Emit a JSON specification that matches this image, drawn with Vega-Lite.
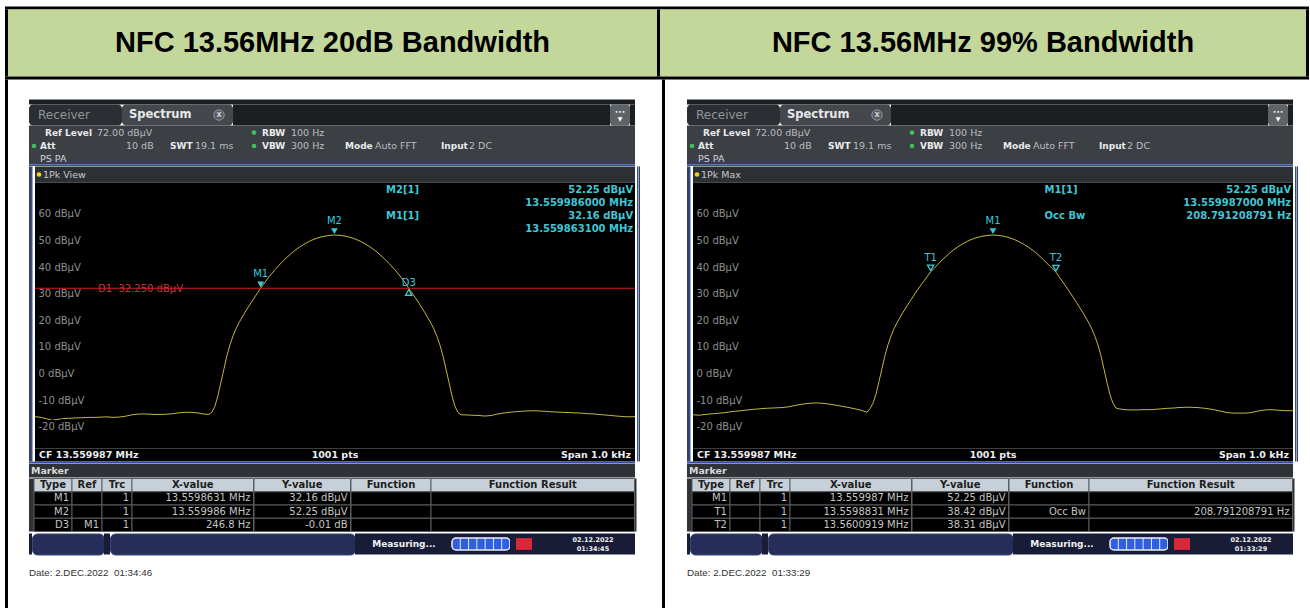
{
"$schema":"https://vega.github.io/schema/vega-lite/v6.json",
"background":"#ffffff",
"padding":{"left":5,"top":6.5,"right":0,"bottom":0},
"config":{"view":{"stroke":null},"concat":{"spacing":0},"text":{"font":"DejaVu Sans","fontSize":10},"point":{"opacity":1},"axis":{"minExtent":0,"maxExtent":0}},
"datasets":{
"tr1":[{"f":-500,"l":-16.0},{"f":-490,"l":-16.3},{"f":-480,"l":-16.9},{"f":-470,"l":-17.3},{"f":-460,"l":-17.0},{"f":-450,"l":-16.7},{"f":-440,"l":-16.6},{"f":-430,"l":-16.5},{"f":-420,"l":-16.4},{"f":-410,"l":-16.3},{"f":-400,"l":-16.3},{"f":-390,"l":-16.2},{"f":-380,"l":-16.1},{"f":-370,"l":-16.3},{"f":-360,"l":-16.2},{"f":-350,"l":-15.9},{"f":-340,"l":-15.4},{"f":-330,"l":-15.1},{"f":-320,"l":-15.0},{"f":-310,"l":-15.1},{"f":-300,"l":-15.2},{"f":-290,"l":-15.2},{"f":-280,"l":-15.1},{"f":-270,"l":-14.9},{"f":-260,"l":-14.6},{"f":-250,"l":-14.4},{"f":-240,"l":-14.4},{"f":-230,"l":-14.6},{"f":-220,"l":-15.0},{"f":-210,"l":-15.2},{"f":-205,"l":-14.3},{"f":-200,"l":-12.0},{"f":-195,"l":-8.0},{"f":-190,"l":-3.0},{"f":-185,"l":2.0},{"f":-180,"l":7.0},{"f":-175,"l":11.0},{"f":-170,"l":14.3},{"f":-165,"l":17.0},{"f":-160,"l":19.3},{"f":-150,"l":23.2},{"f":-140,"l":26.8},{"f":-130,"l":30.2},{"f":-124,"l":32.16},{"f":-120,"l":33.5},{"f":-110,"l":36.5},{"f":-100,"l":39.25},{"f":-90,"l":41.7},{"f":-80,"l":43.9},{"f":-70,"l":45.9},{"f":-60,"l":47.6},{"f":-50,"l":49.0},{"f":-40,"l":50.2},{"f":-30,"l":51.1},{"f":-20,"l":51.7},{"f":-10,"l":52.1},{"f":-1,"l":52.25},{"f":10,"l":52.1},{"f":20,"l":51.7},{"f":30,"l":51.05},{"f":40,"l":50.15},{"f":50,"l":48.95},{"f":60,"l":47.55},{"f":70,"l":45.85},{"f":80,"l":43.85},{"f":90,"l":41.6},{"f":100,"l":39.15},{"f":110,"l":36.4},{"f":120,"l":33.3},{"f":123,"l":32.15},{"f":130,"l":30.0},{"f":140,"l":26.6},{"f":150,"l":23.0},{"f":160,"l":19.1},{"f":165,"l":16.8},{"f":170,"l":14.1},{"f":175,"l":10.8},{"f":180,"l":6.8},{"f":185,"l":1.8},{"f":190,"l":-3.2},{"f":195,"l":-8.2},{"f":200,"l":-12.2},{"f":205,"l":-14.5},{"f":210,"l":-15.3},{"f":220,"l":-15.4},{"f":230,"l":-15.5},{"f":240,"l":-15.6},{"f":250,"l":-15.8},{"f":260,"l":-15.6},{"f":270,"l":-15.1},{"f":280,"l":-14.7},{"f":290,"l":-14.4},{"f":300,"l":-14.2},{"f":310,"l":-14.0},{"f":320,"l":-13.9},{"f":330,"l":-13.8},{"f":340,"l":-13.9},{"f":350,"l":-14.0},{"f":360,"l":-14.2},{"f":370,"l":-14.3},{"f":380,"l":-14.4},{"f":390,"l":-14.5},{"f":400,"l":-14.6},{"f":410,"l":-14.7},{"f":420,"l":-14.9},{"f":430,"l":-15.0},{"f":440,"l":-15.2},{"f":450,"l":-15.4},{"f":460,"l":-15.6},{"f":470,"l":-15.8},{"f":480,"l":-16.0},{"f":490,"l":-16.1},{"f":500,"l":-16.0}],
"tr2":[{"f":-500,"l":-15.3},{"f":-490,"l":-15.5},{"f":-480,"l":-15.2},{"f":-470,"l":-15.0},{"f":-460,"l":-14.8},{"f":-450,"l":-14.6},{"f":-440,"l":-14.3},{"f":-430,"l":-14.0},{"f":-420,"l":-13.8},{"f":-410,"l":-13.5},{"f":-400,"l":-13.3},{"f":-390,"l":-13.1},{"f":-380,"l":-12.9},{"f":-370,"l":-12.8},{"f":-360,"l":-12.7},{"f":-350,"l":-12.6},{"f":-340,"l":-12.3},{"f":-330,"l":-11.8},{"f":-320,"l":-11.4},{"f":-310,"l":-11.1},{"f":-300,"l":-10.9},{"f":-290,"l":-10.9},{"f":-280,"l":-11.1},{"f":-270,"l":-11.4},{"f":-260,"l":-11.8},{"f":-250,"l":-12.2},{"f":-240,"l":-12.6},{"f":-230,"l":-13.1},{"f":-220,"l":-13.6},{"f":-210,"l":-14.4},{"f":-205,"l":-13.0},{"f":-200,"l":-11.0},{"f":-195,"l":-7.6},{"f":-190,"l":-2.8},{"f":-185,"l":2.1},{"f":-180,"l":7.0},{"f":-175,"l":11.0},{"f":-170,"l":14.3},{"f":-165,"l":17.0},{"f":-160,"l":19.3},{"f":-150,"l":23.2},{"f":-140,"l":26.8},{"f":-130,"l":30.2},{"f":-120,"l":33.5},{"f":-110,"l":36.5},{"f":-104,"l":38.42},{"f":-100,"l":39.3},{"f":-90,"l":41.7},{"f":-80,"l":43.9},{"f":-70,"l":45.9},{"f":-60,"l":47.6},{"f":-50,"l":49.0},{"f":-40,"l":50.2},{"f":-30,"l":51.1},{"f":-20,"l":51.7},{"f":-10,"l":52.1},{"f":0,"l":52.25},{"f":10,"l":52.1},{"f":20,"l":51.7},{"f":30,"l":51.05},{"f":40,"l":50.15},{"f":50,"l":48.95},{"f":60,"l":47.55},{"f":70,"l":45.85},{"f":80,"l":43.85},{"f":90,"l":41.6},{"f":100,"l":39.4},{"f":105,"l":38.31},{"f":110,"l":36.6},{"f":120,"l":33.4},{"f":130,"l":30.1},{"f":140,"l":26.6},{"f":150,"l":23.0},{"f":160,"l":19.1},{"f":165,"l":16.8},{"f":170,"l":14.1},{"f":175,"l":10.8},{"f":180,"l":6.8},{"f":185,"l":1.8},{"f":190,"l":-3.2},{"f":195,"l":-7.8},{"f":200,"l":-11.0},{"f":205,"l":-12.8},{"f":210,"l":-13.1},{"f":220,"l":-13.4},{"f":230,"l":-13.5},{"f":240,"l":-13.5},{"f":250,"l":-13.4},{"f":260,"l":-13.4},{"f":270,"l":-13.3},{"f":280,"l":-13.1},{"f":290,"l":-12.9},{"f":300,"l":-12.8},{"f":310,"l":-12.6},{"f":320,"l":-12.5},{"f":330,"l":-12.5},{"f":340,"l":-12.6},{"f":350,"l":-12.8},{"f":360,"l":-13.1},{"f":370,"l":-13.5},{"f":380,"l":-14.0},{"f":390,"l":-14.5},{"f":400,"l":-14.7},{"f":410,"l":-14.7},{"f":420,"l":-14.7},{"f":430,"l":-14.5},{"f":440,"l":-14.0},{"f":450,"l":-13.6},{"f":460,"l":-13.4},{"f":470,"l":-13.5},{"f":480,"l":-13.7},{"f":490,"l":-13.8},{"f":500,"l":-13.8}],
"ylab":[{"lv":60,"t":"60 dBµV"},{"lv":50,"t":"50 dBµV"},{"lv":40,"t":"40 dBµV"},{"lv":30,"t":"30 dBµV"},{"lv":20,"t":"20 dBµV"},{"lv":10,"t":"10 dBµV"},{"lv":0,"t":"0 dBµV"},{"lv":-10,"t":"-10 dBµV"},{"lv":-20,"t":"-20 dBµV"}],
"mp1":[{"n":"M1","f":-123.9,"lv":32.16},{"n":"M2","f":-1,"lv":52.25},{"n":"D3","f":122.9,"lv":32.15}],
"mp2":[{"n":"M1","f":0,"lv":52.25},{"n":"T1","f":-103.9,"lv":38.42},{"n":"T2","f":104.9,"lv":38.31}],
"mk1":[{"r":1,"Type":"M1","Ref":"","Trc":"1","X":"13.5598631 MHz","Y":"32.16 dBµV","Func":"","Res":""},{"r":2,"Type":"M2","Ref":"","Trc":"1","X":"13.559986 MHz","Y":"52.25 dBµV","Func":"","Res":""},{"r":3,"Type":"D3","Ref":"M1","Trc":"1","X":"246.8 Hz","Y":"-0.01 dB","Func":"","Res":""}],
"mk2":[{"r":1,"Type":"M1","Ref":"","Trc":"1","X":"13.559987 MHz","Y":"52.25 dBµV","Func":"","Res":""},{"r":2,"Type":"T1","Ref":"","Trc":"1","X":"13.5598831 MHz","Y":"38.42 dBµV","Func":"Occ Bw","Res":"208.791208791 Hz"},{"r":3,"Type":"T2","Ref":"","Trc":"1","X":"13.5600919 MHz","Y":"38.31 dBµV","Func":"","Res":""}],
"settings":[{"line":1,"t":"Ref Level","g":"a"},{"line":2,"t":"Att","g":"b"},{"line":3,"t":"PS PA","g":"c"},{"line":1,"t":"72.00 dBµV","g":"d"},{"line":2,"t":"10 dB","g":"e"},{"line":2,"t":"SWT","g":"f"},{"line":2,"t":"19.1 ms","g":"h"},{"line":1,"t":"RBW","g":"i"},{"line":2,"t":"VBW","g":"i"},{"line":1,"t":"100 Hz","g":"j"},{"line":2,"t":"300 Hz","g":"j"},{"line":2,"t":"Mode","g":"k"},{"line":2,"t":"Auto FFT","g":"l"},{"line":2,"t":"Input","g":"m"},{"line":2,"t":"2 DC","g":"n"}],
"seg":[{"s":1},{"s":2},{"s":3},{"s":4},{"s":5},{"s":6}]
},
"spacing":0,
"vconcat":[
{"width":1304,"height":3,"view":{"fill":"#000000"},"data":{"values":[{}]},"mark":{"type":"text","text":"","fontSize":0},"encoding":{}},
{"spacing":0,"bounds":"flush","hconcat":[
 {"width":3,"height":67,"view":{"fill":"#000000"},"data":{"values":[{}]},"mark":{"type":"text","text":"","fontSize":0},"encoding":{}},
 {"width":649,"height":67,"view":{"fill":"#c4d79b"},"data":{"values":[{"t":"NFC 13.56MHz 20dB Bandwidth"}]},"mark":{"type":"text","font":"Liberation Sans","fontWeight":"bold","fontSize":29,"color":"#000000","dy":0},"encoding":{"text":{"field":"t"}}},
 {"width":3,"height":67,"view":{"fill":"#000000"},"data":{"values":[{}]},"mark":{"type":"text","text":"","fontSize":0},"encoding":{}},
 {"width":646,"height":67,"view":{"fill":"#c4d79b"},"data":{"values":[{"t":"NFC 13.56MHz 99% Bandwidth"}]},"mark":{"type":"text","font":"Liberation Sans","fontWeight":"bold","fontSize":29,"color":"#000000","dy":0},"encoding":{"text":{"field":"t"}}},
 {"width":3,"height":67,"view":{"fill":"#000000"},"data":{"values":[{}]},"mark":{"type":"text","text":"","fontSize":0},"encoding":{}}
]},
{"width":1304,"height":3,"view":{"fill":"#000000"},"data":{"values":[{}]},"mark":{"type":"text","text":"","fontSize":0},"encoding":{}},
{"spacing":0,"hconcat":[
 {"width":3,"height":529,"view":{"fill":"#000000"},"data":{"values":[{}]},"mark":{"type":"text","text":"","fontSize":0},"encoding":{}},
 {"spacing":0,"vconcat":[
  {"width":649,"height":20,"data":{"values":[{}]},"mark":{"type":"text","text":"","fontSize":0},"encoding":{}},
  {"spacing":0,"hconcat":[
   {"width":21,"height":450,"data":{"values":[{}]},"mark":{"type":"text","text":"","fontSize":0},"encoding":{}},
   {"spacing":0,"vconcat":[
    {"width":606,"height":5,"view":{"fill":"#1c1f22"},"data":{"values":[{}]},"mark":{"type":"text","text":"","fontSize":0},"encoding":{}},
    {"spacing":0,"bounds":"flush","hconcat":[
     {"width":93,"height":21,"view":{"fill":"#2b2f33","cornerRadius":4},"data":{"values":[{"t":"Receiver"}]},"mark":{"type":"text","align":"left","dx":9,"fontSize":12,"color":"#8f9498"},"encoding":{"x":{"datum":0,"type":"quantitative","scale":{"domain":[0,1]},"axis":null},"text":{"field":"t"}}},
     {"width":111,"height":21,"view":{"fill":"#44484c","cornerRadius":4},"layer":[
      {"data":{"values":[{"t":"Spectrum"}]},"mark":{"type":"text","align":"left","dx":7,"fontSize":11.5,"fontWeight":"bold","color":"#e6e8ea"},"encoding":{"x":{"datum":0,"type":"quantitative","scale":{"domain":[0,1]},"axis":null},"text":{"field":"t"}}},
      {"data":{"values":[{}]},"mark":{"type":"point","shape":"circle","filled":true,"size":110,"fill":"#5a5e62","stroke":"#8e9296","strokeWidth":1,"xOffset":-14},"encoding":{"x":{"datum":1,"type":"quantitative","scale":{"domain":[0,1]},"axis":null}}},
      {"data":{"values":[{"t":"x"}]},"mark":{"type":"text","dx":-14,"fontSize":8,"fontWeight":"bold","color":"#c8ccd0"},"encoding":{"x":{"datum":1,"type":"quantitative","scale":{"domain":[0,1]},"axis":null},"text":{"field":"t"}}}
     ]},
     {"width":377,"height":21,"view":{"fill":"#1c1f22"},"data":{"values":[{}]},"mark":{"type":"text","text":"","fontSize":0},"encoding":{}},
     {"width":20,"height":21,"view":{"fill":"#5e6368","cornerRadius":3},"layer":[
      {"data":{"values":[{"t":"•••"}]},"mark":{"type":"text","fontSize":6,"color":"#ffffff","dy":-3},"encoding":{"text":{"field":"t"}}},
      {"data":{"values":[{"t":"▼"}]},"mark":{"type":"text","fontSize":6,"color":"#ffffff","dy":4},"encoding":{"text":{"field":"t"}}}
     ]},
     {"width":5,"height":21,"view":{"fill":"#1c1f22"},"data":{"values":[{}]},"mark":{"type":"text","text":"","fontSize":0},"encoding":{}}
    ]},
    {"width":606,"height":39,"view":{"fill":"#3c4044"},"layer":[
     {"data":{"name":"settings"},"transform":[{"filter":"datum.g == 'a'"}],"mark":{"type":"text","align":"left","dx":16,"dy":1,"fontSize":9,"fontWeight":"bold","color":"#e8eaec"},"encoding":{"x":{"datum":0,"type":"quantitative","scale":{"domain":[0,1]},"axis":null},"y":{"field":"line","type":"ordinal","scale":{"type":"point","domain":[1,2,3],"padding":0.45},"axis":null},"text":{"field":"t"}}},
     {"data":{"name":"settings"},"transform":[{"filter":"datum.g == 'b'"}],"mark":{"type":"text","align":"left","dx":11,"dy":1,"fontSize":9,"fontWeight":"bold","color":"#e8eaec"},"encoding":{"x":{"datum":0,"type":"quantitative","scale":{"domain":[0,1]},"axis":null},"y":{"field":"line","type":"ordinal","scale":{"type":"point","domain":[1,2,3],"padding":0.45},"axis":null},"text":{"field":"t"}}},
     {"data":{"name":"settings"},"transform":[{"filter":"datum.g == 'c'"}],"mark":{"type":"text","align":"left","dx":11,"dy":1,"fontSize":9.5,"color":"#d0d3d6"},"encoding":{"x":{"datum":0,"type":"quantitative","scale":{"domain":[0,1]},"axis":null},"y":{"field":"line","type":"ordinal","scale":{"type":"point","domain":[1,2,3],"padding":0.45},"axis":null},"text":{"field":"t"}}},
     {"data":{"name":"settings"},"transform":[{"filter":"datum.g == 'd'"}],"mark":{"type":"text","align":"left","dx":68,"dy":1,"fontSize":9.5,"color":"#b9bdc1"},"encoding":{"x":{"datum":0,"type":"quantitative","scale":{"domain":[0,1]},"axis":null},"y":{"field":"line","type":"ordinal","scale":{"type":"point","domain":[1,2,3],"padding":0.45},"axis":null},"text":{"field":"t"}}},
     {"data":{"name":"settings"},"transform":[{"filter":"datum.g == 'e'"}],"mark":{"type":"text","align":"left","dx":97,"dy":1,"fontSize":9.5,"color":"#b9bdc1"},"encoding":{"x":{"datum":0,"type":"quantitative","scale":{"domain":[0,1]},"axis":null},"y":{"field":"line","type":"ordinal","scale":{"type":"point","domain":[1,2,3],"padding":0.45},"axis":null},"text":{"field":"t"}}},
     {"data":{"name":"settings"},"transform":[{"filter":"datum.g == 'f'"}],"mark":{"type":"text","align":"left","dx":141,"dy":1,"fontSize":9,"fontWeight":"bold","color":"#e8eaec"},"encoding":{"x":{"datum":0,"type":"quantitative","scale":{"domain":[0,1]},"axis":null},"y":{"field":"line","type":"ordinal","scale":{"type":"point","domain":[1,2,3],"padding":0.45},"axis":null},"text":{"field":"t"}}},
     {"data":{"name":"settings"},"transform":[{"filter":"datum.g == 'h'"}],"mark":{"type":"text","align":"left","dx":166,"dy":1,"fontSize":9.5,"color":"#b9bdc1"},"encoding":{"x":{"datum":0,"type":"quantitative","scale":{"domain":[0,1]},"axis":null},"y":{"field":"line","type":"ordinal","scale":{"type":"point","domain":[1,2,3],"padding":0.45},"axis":null},"text":{"field":"t"}}},
     {"data":{"name":"settings"},"transform":[{"filter":"datum.g == 'i'"}],"mark":{"type":"text","align":"left","dx":233,"dy":1,"fontSize":9,"fontWeight":"bold","color":"#e8eaec"},"encoding":{"x":{"datum":0,"type":"quantitative","scale":{"domain":[0,1]},"axis":null},"y":{"field":"line","type":"ordinal","scale":{"type":"point","domain":[1,2,3],"padding":0.45},"axis":null},"text":{"field":"t"}}},
     {"data":{"name":"settings"},"transform":[{"filter":"datum.g == 'j'"}],"mark":{"type":"text","align":"left","dx":262,"dy":1,"fontSize":9.5,"color":"#b9bdc1"},"encoding":{"x":{"datum":0,"type":"quantitative","scale":{"domain":[0,1]},"axis":null},"y":{"field":"line","type":"ordinal","scale":{"type":"point","domain":[1,2,3],"padding":0.45},"axis":null},"text":{"field":"t"}}},
     {"data":{"name":"settings"},"transform":[{"filter":"datum.g == 'k'"}],"mark":{"type":"text","align":"left","dx":316,"dy":1,"fontSize":9,"fontWeight":"bold","color":"#e8eaec"},"encoding":{"x":{"datum":0,"type":"quantitative","scale":{"domain":[0,1]},"axis":null},"y":{"field":"line","type":"ordinal","scale":{"type":"point","domain":[1,2,3],"padding":0.45},"axis":null},"text":{"field":"t"}}},
     {"data":{"name":"settings"},"transform":[{"filter":"datum.g == 'l'"}],"mark":{"type":"text","align":"left","dx":346,"dy":1,"fontSize":9.5,"color":"#b9bdc1"},"encoding":{"x":{"datum":0,"type":"quantitative","scale":{"domain":[0,1]},"axis":null},"y":{"field":"line","type":"ordinal","scale":{"type":"point","domain":[1,2,3],"padding":0.45},"axis":null},"text":{"field":"t"}}},
     {"data":{"name":"settings"},"transform":[{"filter":"datum.g == 'm'"}],"mark":{"type":"text","align":"left","dx":412,"dy":1,"fontSize":9,"fontWeight":"bold","color":"#e8eaec"},"encoding":{"x":{"datum":0,"type":"quantitative","scale":{"domain":[0,1]},"axis":null},"y":{"field":"line","type":"ordinal","scale":{"type":"point","domain":[1,2,3],"padding":0.45},"axis":null},"text":{"field":"t"}}},
     {"data":{"name":"settings"},"transform":[{"filter":"datum.g == 'n'"}],"mark":{"type":"text","align":"left","dx":440,"dy":1,"fontSize":9.5,"color":"#b9bdc1"},"encoding":{"x":{"datum":0,"type":"quantitative","scale":{"domain":[0,1]},"axis":null},"y":{"field":"line","type":"ordinal","scale":{"type":"point","domain":[1,2,3],"padding":0.45},"axis":null},"text":{"field":"t"}}},
     {"data":{"name":"settings"},"transform":[{"filter":"datum.g == 'i'"}],"mark":{"type":"point","shape":"circle","filled":true,"size":22,"color":"#3fbf5a","xOffset":225,"yOffset":1},"encoding":{"x":{"datum":0,"type":"quantitative","scale":{"domain":[0,1]},"axis":null},"y":{"field":"line","type":"ordinal","scale":{"type":"point","domain":[1,2,3],"padding":0.45},"axis":null}}},
     {"data":{"name":"settings"},"transform":[{"filter":"datum.g == 'b'"}],"mark":{"type":"point","shape":"circle","filled":true,"size":22,"color":"#3fbf5a","xOffset":5,"yOffset":1},"encoding":{"x":{"datum":0,"type":"quantitative","scale":{"domain":[0,1]},"axis":null},"y":{"field":"line","type":"ordinal","scale":{"type":"point","domain":[1,2,3],"padding":0.45},"axis":null}}}
    ]},
    {"width":606,"height":1.5,"view":{"fill":"#2d50a8"},"data":{"values":[{}]},"mark":{"type":"text","text":"","fontSize":0},"encoding":{}},
    {"spacing":0,"hconcat":[
     {"width":2,"height":295,"view":{"fill":"#3c4044"},"data":{"values":[{}]},"mark":{"type":"text","text":"","fontSize":0},"encoding":{}},
     {"width":1.5,"height":295,"view":{"fill":"#2d50a8"},"data":{"values":[{}]},"mark":{"type":"text","text":"","fontSize":0},"encoding":{}},
     {"spacing":0,"bounds":"flush","vconcat":[
      {"width":600,"height":16,"view":{"fill":"#2c2f33"},"layer":[
       {"data":{"values":[{}]},"mark":{"type":"point","shape":"circle","filled":true,"size":22,"color":"#f0d020","xOffset":4},"encoding":{"x":{"datum":0,"type":"quantitative","scale":{"domain":[0,1]},"axis":null}}},
       {"data":{"values":[{"t":"1Pk View"}]},"mark":{"type":"text","align":"left","dx":8,"fontSize":9.5,"color":"#c6cacd"},"encoding":{"x":{"datum":0,"type":"quantitative","scale":{"domain":[0,1]},"axis":null},"text":{"field":"t"}}}
      ]},
      {"width":600,"height":266,"view":{"fill":"#000000"},"layer":[
       {"data":{"name":"tr1"},"mark":{"type":"line","color":"#c2b440","strokeWidth":1},"encoding":{"x":{"field":"f","type":"quantitative","scale":{"domain":[-500,500],"nice":false,"zero":false},"axis":{"grid":true,"values":[-500,-400,-300,-200,-100,0,100,200,300,400,500],"gridColor":"#6c6c6c","gridOpacity":1,"gridWidth":1,"labels":false,"ticks":false,"domain":false,"title":null,"minExtent":0,"maxExtent":0}},"y":{"field":"l","type":"quantitative","scale":{"domain":[-28,72],"nice":false,"zero":false},"axis":{"grid":true,"values":[-28,-20,-10,0,10,20,30,40,50,60,70,72],"gridColor":"#6c6c6c","gridOpacity":1,"gridWidth":1,"labels":false,"ticks":false,"domain":false,"title":null,"minExtent":0,"maxExtent":0}}}},
       {"data":{"values":[{}]},"mark":{"type":"rect","fill":"#000000"},"encoding":{"x":{"datum":78,"type":"quantitative","axis":null},"x2":{"datum":500},"y":{"datum":52,"type":"quantitative","axis":null},"y2":{"datum":71.6}}},
       {"data":{"name":"ylab"},"mark":{"type":"text","align":"left","dx":3.5,"fill":"#000000","stroke":"#000000","strokeWidth":5},"encoding":{"x":{"datum":-500,"type":"quantitative","axis":null},"y":{"field":"lv","type":"quantitative","axis":null},"text":{"field":"t"}}},
       {"data":{"name":"ylab"},"mark":{"type":"text","align":"left","dx":3.5,"color":"#8e8e8e"},"encoding":{"x":{"datum":-500,"type":"quantitative","axis":null},"y":{"field":"lv","type":"quantitative","axis":null},"text":{"field":"t"}}},
       {"data":{"values":[{}]},"mark":{"type":"rule","color":"#d42020","strokeWidth":1},"encoding":{"y":{"datum":32.25,"type":"quantitative","axis":null}}},
       {"data":{"values":[{"t":"D1\u00a0 32.250 dBµV"}]},"mark":{"type":"text","align":"left","dx":3,"dy":1,"color":"#cc3030"},"encoding":{"x":{"datum":-400,"type":"quantitative","axis":null},"y":{"datum":32.25,"type":"quantitative","axis":null},"text":{"field":"t"}}},
       {"data":{"name":"mp1"},"transform":[{"filter":"datum.n != 'D3'"}],"mark":{"type":"point","shape":"triangle-down","filled":true,"size":45,"color":"#3cc8da","yOffset":-4},"encoding":{"x":{"field":"f","type":"quantitative","axis":null},"y":{"field":"lv","type":"quantitative","axis":null}}},
       {"data":{"name":"mp1"},"transform":[{"filter":"datum.n == 'D3'"}],"mark":{"type":"point","shape":"triangle-up","filled":false,"size":40,"strokeWidth":1.3,"color":"#3cc8da","yOffset":4},"encoding":{"x":{"field":"f","type":"quantitative","axis":null},"y":{"field":"lv","type":"quantitative","axis":null}}},
       {"data":{"name":"mp1"},"transform":[{"filter":"datum.n != 'D3'"}],"mark":{"type":"text","color":"#3cc8da","dy":-14},"encoding":{"x":{"field":"f","type":"quantitative","axis":null},"y":{"field":"lv","type":"quantitative","axis":null},"text":{"field":"n"}}},
       {"data":{"name":"mp1"},"transform":[{"filter":"datum.n == 'D3'"}],"mark":{"type":"text","color":"#3cc8da","dy":-6},"encoding":{"x":{"field":"f","type":"quantitative","axis":null},"y":{"field":"lv","type":"quantitative","axis":null},"text":{"field":"n"}}},
       {"data":{"values":[{"t":"M2[1]"}]},"mark":{"type":"text","align":"left","fontWeight":"bold","color":"#3ec7d5"},"encoding":{"x":{"datum":85,"type":"quantitative","axis":null},"y":{"datum":69,"type":"quantitative","axis":null},"text":{"field":"t"}}},
       {"data":{"values":[{"t":"M1[1]"}]},"mark":{"type":"text","align":"left","fontWeight":"bold","color":"#3ec7d5"},"encoding":{"x":{"datum":85,"type":"quantitative","axis":null},"y":{"datum":59.4,"type":"quantitative","axis":null},"text":{"field":"t"}}},
       {"data":{"values":[{"t":"52.25 dBµV"}]},"mark":{"type":"text","align":"right","fontWeight":"bold","color":"#3ec7d5"},"encoding":{"x":{"datum":497,"type":"quantitative","axis":null},"y":{"datum":69,"type":"quantitative","axis":null},"text":{"field":"t"}}},
       {"data":{"values":[{"t":"13.559986000 MHz"}]},"mark":{"type":"text","align":"right","fontWeight":"bold","color":"#3ec7d5"},"encoding":{"x":{"datum":497,"type":"quantitative","axis":null},"y":{"datum":64.2,"type":"quantitative","axis":null},"text":{"field":"t"}}},
       {"data":{"values":[{"t":"32.16 dBµV"}]},"mark":{"type":"text","align":"right","fontWeight":"bold","color":"#3ec7d5"},"encoding":{"x":{"datum":497,"type":"quantitative","axis":null},"y":{"datum":59.4,"type":"quantitative","axis":null},"text":{"field":"t"}}},
       {"data":{"values":[{"t":"13.559863100 MHz"}]},"mark":{"type":"text","align":"right","fontWeight":"bold","color":"#3ec7d5"},"encoding":{"x":{"datum":497,"type":"quantitative","axis":null},"y":{"datum":54.5,"type":"quantitative","axis":null},"text":{"field":"t"}}}
      ]},
      {"width":600,"height":13,"view":{"fill":"#000000"},"layer":[
       {"data":{"values":[{"t":"CF 13.559987 MHz"}]},"mark":{"type":"text","align":"left","dx":4,"fontWeight":"bold","fontSize":9.5,"color":"#eeeeee"},"encoding":{"x":{"datum":0,"type":"quantitative","scale":{"domain":[0,1]},"axis":null},"text":{"field":"t"}}},
       {"data":{"values":[{"t":"1001 pts"}]},"mark":{"type":"text","fontWeight":"bold","fontSize":9.5,"color":"#eeeeee"},"encoding":{"text":{"field":"t"}}},
       {"data":{"values":[{"t":"Span 1.0 kHz"}]},"mark":{"type":"text","align":"right","dx":-4,"fontWeight":"bold","fontSize":9.5,"color":"#eeeeee"},"encoding":{"x":{"datum":1,"type":"quantitative","scale":{"domain":[0,1]},"axis":null},"text":{"field":"t"}}}
      ]}
     ]},
     {"width":1.5,"height":295,"view":{"fill":"#2d50a8"},"data":{"values":[{}]},"mark":{"type":"text","text":"","fontSize":0},"encoding":{}},
     {"width":1,"height":295,"view":{"fill":"#3c4044"},"data":{"values":[{}]},"mark":{"type":"text","text":"","fontSize":0},"encoding":{}}
    ]},
    {"width":606,"height":1.5,"view":{"fill":"#2d50a8"},"data":{"values":[{}]},"mark":{"type":"text","text":"","fontSize":0},"encoding":{}},
    {"width":606,"height":14,"view":{"fill":"#2f3337"},"data":{"values":[{"t":"Marker"}]},"mark":{"type":"text","align":"left","dx":2,"fontWeight":"bold","fontSize":9.5,"color":"#d6d8da"},"encoding":{"x":{"datum":0,"type":"quantitative","scale":{"domain":[0,1]},"axis":null},"text":{"field":"t"}}},
    {"spacing":0,"bounds":"flush","hconcat":[
     {"width":5,"height":53,"view":{"fill":"#2f3337"},"data":{"values":[{}]},"mark":{"type":"text","text":"","fontSize":0},"encoding":{}},
     {"width":38,"height":53,"layer":[
      {"data":{"values":[{"r":0,"h":"Type"}]},"mark":{"type":"rect","fill":"#c7d0d8","stroke":"#5a5e62","strokeWidth":1},"encoding":{"x":{"datum":0,"type":"quantitative","scale":{"domain":[0,1]},"axis":null},"x2":{"datum":1},"y":{"field":"r","type":"ordinal","scale":{"type":"band","domain":[0,1,2,3],"paddingInner":0,"paddingOuter":0},"axis":null}}},
      {"data":{"values":[{"r":0,"h":"Type"}]},"mark":{"type":"text","fontWeight":"bold","color":"#1e1e1e"},"encoding":{"y":{"field":"r","type":"ordinal","scale":{"type":"band","domain":[0,1,2,3],"paddingInner":0,"paddingOuter":0},"axis":null},"text":{"field":"h"}}},
      {"data":{"name":"mk1"},"mark":{"type":"rect","fill":"#000000","stroke":"#5a5e62","strokeWidth":1},"encoding":{"x":{"datum":0,"type":"quantitative","scale":{"domain":[0,1]},"axis":null},"x2":{"datum":1},"y":{"field":"r","type":"ordinal","scale":{"type":"band","domain":[0,1,2,3],"paddingInner":0,"paddingOuter":0},"axis":null}}},
      {"data":{"name":"mk1"},"mark":{"type":"text","align":"right","dx":-3,"color":"#c4c4c4"},"encoding":{"x":{"datum":1,"type":"quantitative","scale":{"domain":[0,1]},"axis":null},"y":{"field":"r","type":"ordinal","scale":{"type":"band","domain":[0,1,2,3],"paddingInner":0,"paddingOuter":0},"axis":null},"text":{"field":"Type"}}}
     ]},
     {"width":30,"height":53,"layer":[
      {"data":{"values":[{"r":0,"h":"Ref"}]},"mark":{"type":"rect","fill":"#c7d0d8","stroke":"#5a5e62","strokeWidth":1},"encoding":{"x":{"datum":0,"type":"quantitative","scale":{"domain":[0,1]},"axis":null},"x2":{"datum":1},"y":{"field":"r","type":"ordinal","scale":{"type":"band","domain":[0,1,2,3],"paddingInner":0,"paddingOuter":0},"axis":null}}},
      {"data":{"values":[{"r":0,"h":"Ref"}]},"mark":{"type":"text","fontWeight":"bold","color":"#1e1e1e"},"encoding":{"y":{"field":"r","type":"ordinal","scale":{"type":"band","domain":[0,1,2,3],"paddingInner":0,"paddingOuter":0},"axis":null},"text":{"field":"h"}}},
      {"data":{"name":"mk1"},"mark":{"type":"rect","fill":"#000000","stroke":"#5a5e62","strokeWidth":1},"encoding":{"x":{"datum":0,"type":"quantitative","scale":{"domain":[0,1]},"axis":null},"x2":{"datum":1},"y":{"field":"r","type":"ordinal","scale":{"type":"band","domain":[0,1,2,3],"paddingInner":0,"paddingOuter":0},"axis":null}}},
      {"data":{"name":"mk1"},"mark":{"type":"text","align":"right","dx":-3,"color":"#c4c4c4"},"encoding":{"x":{"datum":1,"type":"quantitative","scale":{"domain":[0,1]},"axis":null},"y":{"field":"r","type":"ordinal","scale":{"type":"band","domain":[0,1,2,3],"paddingInner":0,"paddingOuter":0},"axis":null},"text":{"field":"Ref"}}}
     ]},
     {"width":30,"height":53,"layer":[
      {"data":{"values":[{"r":0,"h":"Trc"}]},"mark":{"type":"rect","fill":"#c7d0d8","stroke":"#5a5e62","strokeWidth":1},"encoding":{"x":{"datum":0,"type":"quantitative","scale":{"domain":[0,1]},"axis":null},"x2":{"datum":1},"y":{"field":"r","type":"ordinal","scale":{"type":"band","domain":[0,1,2,3],"paddingInner":0,"paddingOuter":0},"axis":null}}},
      {"data":{"values":[{"r":0,"h":"Trc"}]},"mark":{"type":"text","fontWeight":"bold","color":"#1e1e1e"},"encoding":{"y":{"field":"r","type":"ordinal","scale":{"type":"band","domain":[0,1,2,3],"paddingInner":0,"paddingOuter":0},"axis":null},"text":{"field":"h"}}},
      {"data":{"name":"mk1"},"mark":{"type":"rect","fill":"#000000","stroke":"#5a5e62","strokeWidth":1},"encoding":{"x":{"datum":0,"type":"quantitative","scale":{"domain":[0,1]},"axis":null},"x2":{"datum":1},"y":{"field":"r","type":"ordinal","scale":{"type":"band","domain":[0,1,2,3],"paddingInner":0,"paddingOuter":0},"axis":null}}},
      {"data":{"name":"mk1"},"mark":{"type":"text","align":"right","dx":-3,"color":"#c4c4c4"},"encoding":{"x":{"datum":1,"type":"quantitative","scale":{"domain":[0,1]},"axis":null},"y":{"field":"r","type":"ordinal","scale":{"type":"band","domain":[0,1,2,3],"paddingInner":0,"paddingOuter":0},"axis":null},"text":{"field":"Trc"}}}
     ]},
     {"width":121.5,"height":53,"layer":[
      {"data":{"values":[{"r":0,"h":"X-value"}]},"mark":{"type":"rect","fill":"#c7d0d8","stroke":"#5a5e62","strokeWidth":1},"encoding":{"x":{"datum":0,"type":"quantitative","scale":{"domain":[0,1]},"axis":null},"x2":{"datum":1},"y":{"field":"r","type":"ordinal","scale":{"type":"band","domain":[0,1,2,3],"paddingInner":0,"paddingOuter":0},"axis":null}}},
      {"data":{"values":[{"r":0,"h":"X-value"}]},"mark":{"type":"text","fontWeight":"bold","color":"#1e1e1e"},"encoding":{"y":{"field":"r","type":"ordinal","scale":{"type":"band","domain":[0,1,2,3],"paddingInner":0,"paddingOuter":0},"axis":null},"text":{"field":"h"}}},
      {"data":{"name":"mk1"},"mark":{"type":"rect","fill":"#000000","stroke":"#5a5e62","strokeWidth":1},"encoding":{"x":{"datum":0,"type":"quantitative","scale":{"domain":[0,1]},"axis":null},"x2":{"datum":1},"y":{"field":"r","type":"ordinal","scale":{"type":"band","domain":[0,1,2,3],"paddingInner":0,"paddingOuter":0},"axis":null}}},
      {"data":{"name":"mk1"},"mark":{"type":"text","align":"right","dx":-3,"color":"#c4c4c4"},"encoding":{"x":{"datum":1,"type":"quantitative","scale":{"domain":[0,1]},"axis":null},"y":{"field":"r","type":"ordinal","scale":{"type":"band","domain":[0,1,2,3],"paddingInner":0,"paddingOuter":0},"axis":null},"text":{"field":"X"}}}
     ]},
     {"width":96.5,"height":53,"layer":[
      {"data":{"values":[{"r":0,"h":"Y-value"}]},"mark":{"type":"rect","fill":"#c7d0d8","stroke":"#5a5e62","strokeWidth":1},"encoding":{"x":{"datum":0,"type":"quantitative","scale":{"domain":[0,1]},"axis":null},"x2":{"datum":1},"y":{"field":"r","type":"ordinal","scale":{"type":"band","domain":[0,1,2,3],"paddingInner":0,"paddingOuter":0},"axis":null}}},
      {"data":{"values":[{"r":0,"h":"Y-value"}]},"mark":{"type":"text","fontWeight":"bold","color":"#1e1e1e"},"encoding":{"y":{"field":"r","type":"ordinal","scale":{"type":"band","domain":[0,1,2,3],"paddingInner":0,"paddingOuter":0},"axis":null},"text":{"field":"h"}}},
      {"data":{"name":"mk1"},"mark":{"type":"rect","fill":"#000000","stroke":"#5a5e62","strokeWidth":1},"encoding":{"x":{"datum":0,"type":"quantitative","scale":{"domain":[0,1]},"axis":null},"x2":{"datum":1},"y":{"field":"r","type":"ordinal","scale":{"type":"band","domain":[0,1,2,3],"paddingInner":0,"paddingOuter":0},"axis":null}}},
      {"data":{"name":"mk1"},"mark":{"type":"text","align":"right","dx":-3,"color":"#c4c4c4"},"encoding":{"x":{"datum":1,"type":"quantitative","scale":{"domain":[0,1]},"axis":null},"y":{"field":"r","type":"ordinal","scale":{"type":"band","domain":[0,1,2,3],"paddingInner":0,"paddingOuter":0},"axis":null},"text":{"field":"Y"}}}
     ]},
     {"width":80,"height":53,"layer":[
      {"data":{"values":[{"r":0,"h":"Function"}]},"mark":{"type":"rect","fill":"#c7d0d8","stroke":"#5a5e62","strokeWidth":1},"encoding":{"x":{"datum":0,"type":"quantitative","scale":{"domain":[0,1]},"axis":null},"x2":{"datum":1},"y":{"field":"r","type":"ordinal","scale":{"type":"band","domain":[0,1,2,3],"paddingInner":0,"paddingOuter":0},"axis":null}}},
      {"data":{"values":[{"r":0,"h":"Function"}]},"mark":{"type":"text","fontWeight":"bold","color":"#1e1e1e"},"encoding":{"y":{"field":"r","type":"ordinal","scale":{"type":"band","domain":[0,1,2,3],"paddingInner":0,"paddingOuter":0},"axis":null},"text":{"field":"h"}}},
      {"data":{"name":"mk1"},"mark":{"type":"rect","fill":"#000000","stroke":"#5a5e62","strokeWidth":1},"encoding":{"x":{"datum":0,"type":"quantitative","scale":{"domain":[0,1]},"axis":null},"x2":{"datum":1},"y":{"field":"r","type":"ordinal","scale":{"type":"band","domain":[0,1,2,3],"paddingInner":0,"paddingOuter":0},"axis":null}}},
      {"data":{"name":"mk1"},"mark":{"type":"text","align":"right","dx":-3,"color":"#c4c4c4"},"encoding":{"x":{"datum":1,"type":"quantitative","scale":{"domain":[0,1]},"axis":null},"y":{"field":"r","type":"ordinal","scale":{"type":"band","domain":[0,1,2,3],"paddingInner":0,"paddingOuter":0},"axis":null},"text":{"field":"Func"}}}
     ]},
     {"width":203.5,"height":53,"layer":[
      {"data":{"values":[{"r":0,"h":"Function Result"}]},"mark":{"type":"rect","fill":"#c7d0d8","stroke":"#5a5e62","strokeWidth":1},"encoding":{"x":{"datum":0,"type":"quantitative","scale":{"domain":[0,1]},"axis":null},"x2":{"datum":1},"y":{"field":"r","type":"ordinal","scale":{"type":"band","domain":[0,1,2,3],"paddingInner":0,"paddingOuter":0},"axis":null}}},
      {"data":{"values":[{"r":0,"h":"Function Result"}]},"mark":{"type":"text","fontWeight":"bold","color":"#1e1e1e"},"encoding":{"y":{"field":"r","type":"ordinal","scale":{"type":"band","domain":[0,1,2,3],"paddingInner":0,"paddingOuter":0},"axis":null},"text":{"field":"h"}}},
      {"data":{"name":"mk1"},"mark":{"type":"rect","fill":"#000000","stroke":"#5a5e62","strokeWidth":1},"encoding":{"x":{"datum":0,"type":"quantitative","scale":{"domain":[0,1]},"axis":null},"x2":{"datum":1},"y":{"field":"r","type":"ordinal","scale":{"type":"band","domain":[0,1,2,3],"paddingInner":0,"paddingOuter":0},"axis":null}}},
      {"data":{"name":"mk1"},"mark":{"type":"text","align":"right","dx":-3,"color":"#c4c4c4"},"encoding":{"x":{"datum":1,"type":"quantitative","scale":{"domain":[0,1]},"axis":null},"y":{"field":"r","type":"ordinal","scale":{"type":"band","domain":[0,1,2,3],"paddingInner":0,"paddingOuter":0},"axis":null},"text":{"field":"Res"}}}
     ]},
     {"width":1.5,"height":53,"view":{"fill":"#2f3337"},"data":{"values":[{}]},"mark":{"type":"text","text":"","fontSize":0},"encoding":{}}
    ]},
    {"spacing":0,"bounds":"flush","hconcat":[
     {"width":3,"height":21,"view":{"fill":"#181c36"},"data":{"values":[{}]},"mark":{"type":"text","text":"","fontSize":0},"encoding":{}},
     {"width":72,"height":21,"view":{"fill":"#252e58","stroke":"#3b4679","strokeWidth":1,"cornerRadius":5},"data":{"values":[{}]},"mark":{"type":"text","text":"","fontSize":0},"encoding":{}},
     {"width":6,"height":21,"view":{"fill":"#181c36"},"data":{"values":[{}]},"mark":{"type":"text","text":"","fontSize":0},"encoding":{}},
     {"width":245,"height":21,"view":{"fill":"#252e58","stroke":"#3b4679","strokeWidth":1,"cornerRadius":5},"data":{"values":[{}]},"mark":{"type":"text","text":"","fontSize":0},"encoding":{}},
     {"width":18,"height":21,"view":{"fill":"#181c36"},"data":{"values":[{}]},"mark":{"type":"text","text":"","fontSize":0},"encoding":{}},
     {"width":62,"height":21,"view":{"fill":"#181c36"},"data":{"values":[{"t":"Measuring..."}]},"mark":{"type":"text","fontWeight":"bold","fontSize":9,"color":"#f0f0f0"},"encoding":{"text":{"field":"t"}}},
     {"width":17,"height":21,"view":{"fill":"#181c36"},"data":{"values":[{}]},"mark":{"type":"text","text":"","fontSize":0},"encoding":{}},
     {"width":58,"height":21,"view":{"fill":"#181c36"},"layer":[
      {"data":{"values":[{}]},"mark":{"type":"rect","fill":"#2f5ee0","stroke":"#f0f0f8","strokeWidth":1.5,"cornerRadius":4},"encoding":{"x":{"datum":0,"type":"quantitative","scale":{"domain":[0,7]},"axis":null},"x2":{"datum":7},"y":{"datum":0.22,"type":"quantitative","scale":{"domain":[0,1]},"axis":null},"y2":{"datum":0.78}}},
      {"data":{"name":"seg"},"mark":{"type":"rule","color":"#e8ecf8","strokeWidth":1},"encoding":{"x":{"field":"s","type":"quantitative","axis":null},"y":{"datum":0.22,"type":"quantitative","axis":null},"y2":{"datum":0.78}}}
     ]},
     {"width":6,"height":21,"view":{"fill":"#181c36"},"data":{"values":[{}]},"mark":{"type":"text","text":"","fontSize":0},"encoding":{}},
     {"width":16,"height":21,"view":{"fill":"#181c36"},"data":{"values":[{}]},"mark":{"type":"rect","fill":"#d8283a"},"encoding":{"x":{"datum":0,"type":"quantitative","scale":{"domain":[0,1]},"axis":null},"x2":{"datum":1},"y":{"datum":0.22,"type":"quantitative","scale":{"domain":[0,1]},"axis":null},"y2":{"datum":0.78}}},
     {"width":38,"height":21,"view":{"fill":"#181c36"},"data":{"values":[{}]},"mark":{"type":"text","text":"","fontSize":0},"encoding":{}},
     {"width":46,"height":21,"view":{"fill":"#181c36"},"layer":[
      {"data":{"values":[{"t":"02.12.2022"}]},"mark":{"type":"text","fontWeight":"bold","fontSize":6.5,"color":"#f0f0f0","dy":-4.5},"encoding":{"text":{"field":"t"}}},
      {"data":{"values":[{"t":"01:34:45"}]},"mark":{"type":"text","fontWeight":"bold","fontSize":6.5,"color":"#f0f0f0","dy":4.5},"encoding":{"text":{"field":"t"}}}
     ]},
     {"width":19,"height":21,"view":{"fill":"#181c36"},"data":{"values":[{}]},"mark":{"type":"text","text":"","fontSize":0},"encoding":{}}
    ]}
   ]},
   {"width":22,"height":450,"data":{"values":[{}]},"mark":{"type":"text","text":"","fontSize":0},"encoding":{}}
  ]},
  {"width":649,"height":55,"data":{"values":[{"t":"Date: 2.DEC.2022\u00a0 01:34:46"}]},"mark":{"type":"text","font":"Liberation Sans","fontSize":9.8,"color":"#333333","align":"left","dx":21,"dy":-10},"encoding":{"x":{"datum":0,"type":"quantitative","scale":{"domain":[0,1]},"axis":null},"text":{"field":"t"}}}
 ]},
 {"width":3,"height":529,"view":{"fill":"#000000"},"data":{"values":[{}]},"mark":{"type":"text","text":"","fontSize":0},"encoding":{}},
 {"spacing":0,"vconcat":[
  {"width":646,"height":20,"data":{"values":[{}]},"mark":{"type":"text","text":"","fontSize":0},"encoding":{}},
  {"spacing":0,"hconcat":[
   {"width":22,"height":450,"data":{"values":[{}]},"mark":{"type":"text","text":"","fontSize":0},"encoding":{}},
   {"spacing":0,"vconcat":[
    {"width":606,"height":5,"view":{"fill":"#1c1f22"},"data":{"values":[{}]},"mark":{"type":"text","text":"","fontSize":0},"encoding":{}},
    {"spacing":0,"bounds":"flush","hconcat":[
     {"width":93,"height":21,"view":{"fill":"#2b2f33","cornerRadius":4},"data":{"values":[{"t":"Receiver"}]},"mark":{"type":"text","align":"left","dx":9,"fontSize":12,"color":"#8f9498"},"encoding":{"x":{"datum":0,"type":"quantitative","scale":{"domain":[0,1]},"axis":null},"text":{"field":"t"}}},
     {"width":111,"height":21,"view":{"fill":"#44484c","cornerRadius":4},"layer":[
      {"data":{"values":[{"t":"Spectrum"}]},"mark":{"type":"text","align":"left","dx":7,"fontSize":11.5,"fontWeight":"bold","color":"#e6e8ea"},"encoding":{"x":{"datum":0,"type":"quantitative","scale":{"domain":[0,1]},"axis":null},"text":{"field":"t"}}},
      {"data":{"values":[{}]},"mark":{"type":"point","shape":"circle","filled":true,"size":110,"fill":"#5a5e62","stroke":"#8e9296","strokeWidth":1,"xOffset":-14},"encoding":{"x":{"datum":1,"type":"quantitative","scale":{"domain":[0,1]},"axis":null}}},
      {"data":{"values":[{"t":"x"}]},"mark":{"type":"text","dx":-14,"fontSize":8,"fontWeight":"bold","color":"#c8ccd0"},"encoding":{"x":{"datum":1,"type":"quantitative","scale":{"domain":[0,1]},"axis":null},"text":{"field":"t"}}}
     ]},
     {"width":377,"height":21,"view":{"fill":"#1c1f22"},"data":{"values":[{}]},"mark":{"type":"text","text":"","fontSize":0},"encoding":{}},
     {"width":20,"height":21,"view":{"fill":"#5e6368","cornerRadius":3},"layer":[
      {"data":{"values":[{"t":"•••"}]},"mark":{"type":"text","fontSize":6,"color":"#ffffff","dy":-3},"encoding":{"text":{"field":"t"}}},
      {"data":{"values":[{"t":"▼"}]},"mark":{"type":"text","fontSize":6,"color":"#ffffff","dy":4},"encoding":{"text":{"field":"t"}}}
     ]},
     {"width":5,"height":21,"view":{"fill":"#1c1f22"},"data":{"values":[{}]},"mark":{"type":"text","text":"","fontSize":0},"encoding":{}}
    ]},
    {"width":606,"height":39,"view":{"fill":"#3c4044"},"layer":[
     {"data":{"name":"settings"},"transform":[{"filter":"datum.g == 'a'"}],"mark":{"type":"text","align":"left","dx":16,"dy":1,"fontSize":9,"fontWeight":"bold","color":"#e8eaec"},"encoding":{"x":{"datum":0,"type":"quantitative","scale":{"domain":[0,1]},"axis":null},"y":{"field":"line","type":"ordinal","scale":{"type":"point","domain":[1,2,3],"padding":0.45},"axis":null},"text":{"field":"t"}}},
     {"data":{"name":"settings"},"transform":[{"filter":"datum.g == 'b'"}],"mark":{"type":"text","align":"left","dx":11,"dy":1,"fontSize":9,"fontWeight":"bold","color":"#e8eaec"},"encoding":{"x":{"datum":0,"type":"quantitative","scale":{"domain":[0,1]},"axis":null},"y":{"field":"line","type":"ordinal","scale":{"type":"point","domain":[1,2,3],"padding":0.45},"axis":null},"text":{"field":"t"}}},
     {"data":{"name":"settings"},"transform":[{"filter":"datum.g == 'c'"}],"mark":{"type":"text","align":"left","dx":11,"dy":1,"fontSize":9.5,"color":"#d0d3d6"},"encoding":{"x":{"datum":0,"type":"quantitative","scale":{"domain":[0,1]},"axis":null},"y":{"field":"line","type":"ordinal","scale":{"type":"point","domain":[1,2,3],"padding":0.45},"axis":null},"text":{"field":"t"}}},
     {"data":{"name":"settings"},"transform":[{"filter":"datum.g == 'd'"}],"mark":{"type":"text","align":"left","dx":68,"dy":1,"fontSize":9.5,"color":"#b9bdc1"},"encoding":{"x":{"datum":0,"type":"quantitative","scale":{"domain":[0,1]},"axis":null},"y":{"field":"line","type":"ordinal","scale":{"type":"point","domain":[1,2,3],"padding":0.45},"axis":null},"text":{"field":"t"}}},
     {"data":{"name":"settings"},"transform":[{"filter":"datum.g == 'e'"}],"mark":{"type":"text","align":"left","dx":97,"dy":1,"fontSize":9.5,"color":"#b9bdc1"},"encoding":{"x":{"datum":0,"type":"quantitative","scale":{"domain":[0,1]},"axis":null},"y":{"field":"line","type":"ordinal","scale":{"type":"point","domain":[1,2,3],"padding":0.45},"axis":null},"text":{"field":"t"}}},
     {"data":{"name":"settings"},"transform":[{"filter":"datum.g == 'f'"}],"mark":{"type":"text","align":"left","dx":141,"dy":1,"fontSize":9,"fontWeight":"bold","color":"#e8eaec"},"encoding":{"x":{"datum":0,"type":"quantitative","scale":{"domain":[0,1]},"axis":null},"y":{"field":"line","type":"ordinal","scale":{"type":"point","domain":[1,2,3],"padding":0.45},"axis":null},"text":{"field":"t"}}},
     {"data":{"name":"settings"},"transform":[{"filter":"datum.g == 'h'"}],"mark":{"type":"text","align":"left","dx":166,"dy":1,"fontSize":9.5,"color":"#b9bdc1"},"encoding":{"x":{"datum":0,"type":"quantitative","scale":{"domain":[0,1]},"axis":null},"y":{"field":"line","type":"ordinal","scale":{"type":"point","domain":[1,2,3],"padding":0.45},"axis":null},"text":{"field":"t"}}},
     {"data":{"name":"settings"},"transform":[{"filter":"datum.g == 'i'"}],"mark":{"type":"text","align":"left","dx":233,"dy":1,"fontSize":9,"fontWeight":"bold","color":"#e8eaec"},"encoding":{"x":{"datum":0,"type":"quantitative","scale":{"domain":[0,1]},"axis":null},"y":{"field":"line","type":"ordinal","scale":{"type":"point","domain":[1,2,3],"padding":0.45},"axis":null},"text":{"field":"t"}}},
     {"data":{"name":"settings"},"transform":[{"filter":"datum.g == 'j'"}],"mark":{"type":"text","align":"left","dx":262,"dy":1,"fontSize":9.5,"color":"#b9bdc1"},"encoding":{"x":{"datum":0,"type":"quantitative","scale":{"domain":[0,1]},"axis":null},"y":{"field":"line","type":"ordinal","scale":{"type":"point","domain":[1,2,3],"padding":0.45},"axis":null},"text":{"field":"t"}}},
     {"data":{"name":"settings"},"transform":[{"filter":"datum.g == 'k'"}],"mark":{"type":"text","align":"left","dx":316,"dy":1,"fontSize":9,"fontWeight":"bold","color":"#e8eaec"},"encoding":{"x":{"datum":0,"type":"quantitative","scale":{"domain":[0,1]},"axis":null},"y":{"field":"line","type":"ordinal","scale":{"type":"point","domain":[1,2,3],"padding":0.45},"axis":null},"text":{"field":"t"}}},
     {"data":{"name":"settings"},"transform":[{"filter":"datum.g == 'l'"}],"mark":{"type":"text","align":"left","dx":346,"dy":1,"fontSize":9.5,"color":"#b9bdc1"},"encoding":{"x":{"datum":0,"type":"quantitative","scale":{"domain":[0,1]},"axis":null},"y":{"field":"line","type":"ordinal","scale":{"type":"point","domain":[1,2,3],"padding":0.45},"axis":null},"text":{"field":"t"}}},
     {"data":{"name":"settings"},"transform":[{"filter":"datum.g == 'm'"}],"mark":{"type":"text","align":"left","dx":412,"dy":1,"fontSize":9,"fontWeight":"bold","color":"#e8eaec"},"encoding":{"x":{"datum":0,"type":"quantitative","scale":{"domain":[0,1]},"axis":null},"y":{"field":"line","type":"ordinal","scale":{"type":"point","domain":[1,2,3],"padding":0.45},"axis":null},"text":{"field":"t"}}},
     {"data":{"name":"settings"},"transform":[{"filter":"datum.g == 'n'"}],"mark":{"type":"text","align":"left","dx":440,"dy":1,"fontSize":9.5,"color":"#b9bdc1"},"encoding":{"x":{"datum":0,"type":"quantitative","scale":{"domain":[0,1]},"axis":null},"y":{"field":"line","type":"ordinal","scale":{"type":"point","domain":[1,2,3],"padding":0.45},"axis":null},"text":{"field":"t"}}},
     {"data":{"name":"settings"},"transform":[{"filter":"datum.g == 'i'"}],"mark":{"type":"point","shape":"circle","filled":true,"size":22,"color":"#3fbf5a","xOffset":225,"yOffset":1},"encoding":{"x":{"datum":0,"type":"quantitative","scale":{"domain":[0,1]},"axis":null},"y":{"field":"line","type":"ordinal","scale":{"type":"point","domain":[1,2,3],"padding":0.45},"axis":null}}},
     {"data":{"name":"settings"},"transform":[{"filter":"datum.g == 'b'"}],"mark":{"type":"point","shape":"circle","filled":true,"size":22,"color":"#3fbf5a","xOffset":5,"yOffset":1},"encoding":{"x":{"datum":0,"type":"quantitative","scale":{"domain":[0,1]},"axis":null},"y":{"field":"line","type":"ordinal","scale":{"type":"point","domain":[1,2,3],"padding":0.45},"axis":null}}}
    ]},
    {"width":606,"height":1.5,"view":{"fill":"#2d50a8"},"data":{"values":[{}]},"mark":{"type":"text","text":"","fontSize":0},"encoding":{}},
    {"spacing":0,"hconcat":[
     {"width":2,"height":295,"view":{"fill":"#3c4044"},"data":{"values":[{}]},"mark":{"type":"text","text":"","fontSize":0},"encoding":{}},
     {"width":1.5,"height":295,"view":{"fill":"#2d50a8"},"data":{"values":[{}]},"mark":{"type":"text","text":"","fontSize":0},"encoding":{}},
     {"spacing":0,"bounds":"flush","vconcat":[
      {"width":600,"height":16,"view":{"fill":"#2c2f33"},"layer":[
       {"data":{"values":[{}]},"mark":{"type":"point","shape":"circle","filled":true,"size":22,"color":"#f0d020","xOffset":4},"encoding":{"x":{"datum":0,"type":"quantitative","scale":{"domain":[0,1]},"axis":null}}},
       {"data":{"values":[{"t":"1Pk Max"}]},"mark":{"type":"text","align":"left","dx":8,"fontSize":9.5,"color":"#c6cacd"},"encoding":{"x":{"datum":0,"type":"quantitative","scale":{"domain":[0,1]},"axis":null},"text":{"field":"t"}}}
      ]},
      {"width":600,"height":266,"view":{"fill":"#000000"},"layer":[
       {"data":{"name":"tr2"},"mark":{"type":"line","color":"#c2b440","strokeWidth":1},"encoding":{"x":{"field":"f","type":"quantitative","scale":{"domain":[-500,500],"nice":false,"zero":false},"axis":{"grid":true,"values":[-500,-400,-300,-200,-100,0,100,200,300,400,500],"gridColor":"#6c6c6c","gridOpacity":1,"gridWidth":1,"labels":false,"ticks":false,"domain":false,"title":null,"minExtent":0,"maxExtent":0}},"y":{"field":"l","type":"quantitative","scale":{"domain":[-28,72],"nice":false,"zero":false},"axis":{"grid":true,"values":[-28,-20,-10,0,10,20,30,40,50,60,70,72],"gridColor":"#6c6c6c","gridOpacity":1,"gridWidth":1,"labels":false,"ticks":false,"domain":false,"title":null,"minExtent":0,"maxExtent":0}}}},
       {"data":{"values":[{}]},"mark":{"type":"rect","fill":"#000000"},"encoding":{"x":{"datum":79,"type":"quantitative","axis":null},"x2":{"datum":500},"y":{"datum":57,"type":"quantitative","axis":null},"y2":{"datum":71.6}}},
       {"data":{"name":"ylab"},"mark":{"type":"text","align":"left","dx":3.5,"fill":"#000000","stroke":"#000000","strokeWidth":5},"encoding":{"x":{"datum":-500,"type":"quantitative","axis":null},"y":{"field":"lv","type":"quantitative","axis":null},"text":{"field":"t"}}},
       {"data":{"name":"ylab"},"mark":{"type":"text","align":"left","dx":3.5,"color":"#8e8e8e"},"encoding":{"x":{"datum":-500,"type":"quantitative","axis":null},"y":{"field":"lv","type":"quantitative","axis":null},"text":{"field":"t"}}},
       {"data":{"name":"mp2"},"transform":[{"filter":"datum.n == 'M1'"}],"mark":{"type":"point","shape":"triangle-down","filled":true,"size":45,"color":"#3cc8da","yOffset":-4},"encoding":{"x":{"field":"f","type":"quantitative","axis":null},"y":{"field":"lv","type":"quantitative","axis":null}}},
       {"data":{"name":"mp2"},"transform":[{"filter":"datum.n != 'M1'"}],"mark":{"type":"point","shape":"triangle-down","filled":false,"size":40,"strokeWidth":1.3,"color":"#3cc8da","yOffset":-4},"encoding":{"x":{"field":"f","type":"quantitative","axis":null},"y":{"field":"lv","type":"quantitative","axis":null}}},
       {"data":{"name":"mp2"},"mark":{"type":"text","color":"#3cc8da","dy":-14},"encoding":{"x":{"field":"f","type":"quantitative","axis":null},"y":{"field":"lv","type":"quantitative","axis":null},"text":{"field":"n"}}},
       {"data":{"values":[{"t":"M1[1]"}]},"mark":{"type":"text","align":"left","fontWeight":"bold","color":"#3ec7d5"},"encoding":{"x":{"datum":86,"type":"quantitative","axis":null},"y":{"datum":69,"type":"quantitative","axis":null},"text":{"field":"t"}}},
       {"data":{"values":[{"t":"Occ Bw"}]},"mark":{"type":"text","align":"left","fontWeight":"bold","color":"#3ec7d5"},"encoding":{"x":{"datum":86,"type":"quantitative","axis":null},"y":{"datum":59.4,"type":"quantitative","axis":null},"text":{"field":"t"}}},
       {"data":{"values":[{"t":"52.25 dBµV"}]},"mark":{"type":"text","align":"right","fontWeight":"bold","color":"#3ec7d5"},"encoding":{"x":{"datum":497,"type":"quantitative","axis":null},"y":{"datum":69,"type":"quantitative","axis":null},"text":{"field":"t"}}},
       {"data":{"values":[{"t":"13.559987000 MHz"}]},"mark":{"type":"text","align":"right","fontWeight":"bold","color":"#3ec7d5"},"encoding":{"x":{"datum":497,"type":"quantitative","axis":null},"y":{"datum":64.2,"type":"quantitative","axis":null},"text":{"field":"t"}}},
       {"data":{"values":[{"t":"208.791208791 Hz"}]},"mark":{"type":"text","align":"right","fontWeight":"bold","color":"#3ec7d5"},"encoding":{"x":{"datum":497,"type":"quantitative","axis":null},"y":{"datum":59.4,"type":"quantitative","axis":null},"text":{"field":"t"}}}
      ]},
      {"width":600,"height":13,"view":{"fill":"#000000"},"layer":[
       {"data":{"values":[{"t":"CF 13.559987 MHz"}]},"mark":{"type":"text","align":"left","dx":4,"fontWeight":"bold","fontSize":9.5,"color":"#eeeeee"},"encoding":{"x":{"datum":0,"type":"quantitative","scale":{"domain":[0,1]},"axis":null},"text":{"field":"t"}}},
       {"data":{"values":[{"t":"1001 pts"}]},"mark":{"type":"text","fontWeight":"bold","fontSize":9.5,"color":"#eeeeee"},"encoding":{"text":{"field":"t"}}},
       {"data":{"values":[{"t":"Span 1.0 kHz"}]},"mark":{"type":"text","align":"right","dx":-4,"fontWeight":"bold","fontSize":9.5,"color":"#eeeeee"},"encoding":{"x":{"datum":1,"type":"quantitative","scale":{"domain":[0,1]},"axis":null},"text":{"field":"t"}}}
      ]}
     ]},
     {"width":1.5,"height":295,"view":{"fill":"#2d50a8"},"data":{"values":[{}]},"mark":{"type":"text","text":"","fontSize":0},"encoding":{}},
     {"width":1,"height":295,"view":{"fill":"#3c4044"},"data":{"values":[{}]},"mark":{"type":"text","text":"","fontSize":0},"encoding":{}}
    ]},
    {"width":606,"height":1.5,"view":{"fill":"#2d50a8"},"data":{"values":[{}]},"mark":{"type":"text","text":"","fontSize":0},"encoding":{}},
    {"width":606,"height":14,"view":{"fill":"#2f3337"},"data":{"values":[{"t":"Marker"}]},"mark":{"type":"text","align":"left","dx":2,"fontWeight":"bold","fontSize":9.5,"color":"#d6d8da"},"encoding":{"x":{"datum":0,"type":"quantitative","scale":{"domain":[0,1]},"axis":null},"text":{"field":"t"}}},
    {"spacing":0,"bounds":"flush","hconcat":[
     {"width":5,"height":53,"view":{"fill":"#2f3337"},"data":{"values":[{}]},"mark":{"type":"text","text":"","fontSize":0},"encoding":{}},
     {"width":38,"height":53,"layer":[
      {"data":{"values":[{"r":0,"h":"Type"}]},"mark":{"type":"rect","fill":"#c7d0d8","stroke":"#5a5e62","strokeWidth":1},"encoding":{"x":{"datum":0,"type":"quantitative","scale":{"domain":[0,1]},"axis":null},"x2":{"datum":1},"y":{"field":"r","type":"ordinal","scale":{"type":"band","domain":[0,1,2,3],"paddingInner":0,"paddingOuter":0},"axis":null}}},
      {"data":{"values":[{"r":0,"h":"Type"}]},"mark":{"type":"text","fontWeight":"bold","color":"#1e1e1e"},"encoding":{"y":{"field":"r","type":"ordinal","scale":{"type":"band","domain":[0,1,2,3],"paddingInner":0,"paddingOuter":0},"axis":null},"text":{"field":"h"}}},
      {"data":{"name":"mk2"},"mark":{"type":"rect","fill":"#000000","stroke":"#5a5e62","strokeWidth":1},"encoding":{"x":{"datum":0,"type":"quantitative","scale":{"domain":[0,1]},"axis":null},"x2":{"datum":1},"y":{"field":"r","type":"ordinal","scale":{"type":"band","domain":[0,1,2,3],"paddingInner":0,"paddingOuter":0},"axis":null}}},
      {"data":{"name":"mk2"},"mark":{"type":"text","align":"right","dx":-3,"color":"#c4c4c4"},"encoding":{"x":{"datum":1,"type":"quantitative","scale":{"domain":[0,1]},"axis":null},"y":{"field":"r","type":"ordinal","scale":{"type":"band","domain":[0,1,2,3],"paddingInner":0,"paddingOuter":0},"axis":null},"text":{"field":"Type"}}}
     ]},
     {"width":30,"height":53,"layer":[
      {"data":{"values":[{"r":0,"h":"Ref"}]},"mark":{"type":"rect","fill":"#c7d0d8","stroke":"#5a5e62","strokeWidth":1},"encoding":{"x":{"datum":0,"type":"quantitative","scale":{"domain":[0,1]},"axis":null},"x2":{"datum":1},"y":{"field":"r","type":"ordinal","scale":{"type":"band","domain":[0,1,2,3],"paddingInner":0,"paddingOuter":0},"axis":null}}},
      {"data":{"values":[{"r":0,"h":"Ref"}]},"mark":{"type":"text","fontWeight":"bold","color":"#1e1e1e"},"encoding":{"y":{"field":"r","type":"ordinal","scale":{"type":"band","domain":[0,1,2,3],"paddingInner":0,"paddingOuter":0},"axis":null},"text":{"field":"h"}}},
      {"data":{"name":"mk2"},"mark":{"type":"rect","fill":"#000000","stroke":"#5a5e62","strokeWidth":1},"encoding":{"x":{"datum":0,"type":"quantitative","scale":{"domain":[0,1]},"axis":null},"x2":{"datum":1},"y":{"field":"r","type":"ordinal","scale":{"type":"band","domain":[0,1,2,3],"paddingInner":0,"paddingOuter":0},"axis":null}}},
      {"data":{"name":"mk2"},"mark":{"type":"text","align":"right","dx":-3,"color":"#c4c4c4"},"encoding":{"x":{"datum":1,"type":"quantitative","scale":{"domain":[0,1]},"axis":null},"y":{"field":"r","type":"ordinal","scale":{"type":"band","domain":[0,1,2,3],"paddingInner":0,"paddingOuter":0},"axis":null},"text":{"field":"Ref"}}}
     ]},
     {"width":30,"height":53,"layer":[
      {"data":{"values":[{"r":0,"h":"Trc"}]},"mark":{"type":"rect","fill":"#c7d0d8","stroke":"#5a5e62","strokeWidth":1},"encoding":{"x":{"datum":0,"type":"quantitative","scale":{"domain":[0,1]},"axis":null},"x2":{"datum":1},"y":{"field":"r","type":"ordinal","scale":{"type":"band","domain":[0,1,2,3],"paddingInner":0,"paddingOuter":0},"axis":null}}},
      {"data":{"values":[{"r":0,"h":"Trc"}]},"mark":{"type":"text","fontWeight":"bold","color":"#1e1e1e"},"encoding":{"y":{"field":"r","type":"ordinal","scale":{"type":"band","domain":[0,1,2,3],"paddingInner":0,"paddingOuter":0},"axis":null},"text":{"field":"h"}}},
      {"data":{"name":"mk2"},"mark":{"type":"rect","fill":"#000000","stroke":"#5a5e62","strokeWidth":1},"encoding":{"x":{"datum":0,"type":"quantitative","scale":{"domain":[0,1]},"axis":null},"x2":{"datum":1},"y":{"field":"r","type":"ordinal","scale":{"type":"band","domain":[0,1,2,3],"paddingInner":0,"paddingOuter":0},"axis":null}}},
      {"data":{"name":"mk2"},"mark":{"type":"text","align":"right","dx":-3,"color":"#c4c4c4"},"encoding":{"x":{"datum":1,"type":"quantitative","scale":{"domain":[0,1]},"axis":null},"y":{"field":"r","type":"ordinal","scale":{"type":"band","domain":[0,1,2,3],"paddingInner":0,"paddingOuter":0},"axis":null},"text":{"field":"Trc"}}}
     ]},
     {"width":121.5,"height":53,"layer":[
      {"data":{"values":[{"r":0,"h":"X-value"}]},"mark":{"type":"rect","fill":"#c7d0d8","stroke":"#5a5e62","strokeWidth":1},"encoding":{"x":{"datum":0,"type":"quantitative","scale":{"domain":[0,1]},"axis":null},"x2":{"datum":1},"y":{"field":"r","type":"ordinal","scale":{"type":"band","domain":[0,1,2,3],"paddingInner":0,"paddingOuter":0},"axis":null}}},
      {"data":{"values":[{"r":0,"h":"X-value"}]},"mark":{"type":"text","fontWeight":"bold","color":"#1e1e1e"},"encoding":{"y":{"field":"r","type":"ordinal","scale":{"type":"band","domain":[0,1,2,3],"paddingInner":0,"paddingOuter":0},"axis":null},"text":{"field":"h"}}},
      {"data":{"name":"mk2"},"mark":{"type":"rect","fill":"#000000","stroke":"#5a5e62","strokeWidth":1},"encoding":{"x":{"datum":0,"type":"quantitative","scale":{"domain":[0,1]},"axis":null},"x2":{"datum":1},"y":{"field":"r","type":"ordinal","scale":{"type":"band","domain":[0,1,2,3],"paddingInner":0,"paddingOuter":0},"axis":null}}},
      {"data":{"name":"mk2"},"mark":{"type":"text","align":"right","dx":-3,"color":"#c4c4c4"},"encoding":{"x":{"datum":1,"type":"quantitative","scale":{"domain":[0,1]},"axis":null},"y":{"field":"r","type":"ordinal","scale":{"type":"band","domain":[0,1,2,3],"paddingInner":0,"paddingOuter":0},"axis":null},"text":{"field":"X"}}}
     ]},
     {"width":96.5,"height":53,"layer":[
      {"data":{"values":[{"r":0,"h":"Y-value"}]},"mark":{"type":"rect","fill":"#c7d0d8","stroke":"#5a5e62","strokeWidth":1},"encoding":{"x":{"datum":0,"type":"quantitative","scale":{"domain":[0,1]},"axis":null},"x2":{"datum":1},"y":{"field":"r","type":"ordinal","scale":{"type":"band","domain":[0,1,2,3],"paddingInner":0,"paddingOuter":0},"axis":null}}},
      {"data":{"values":[{"r":0,"h":"Y-value"}]},"mark":{"type":"text","fontWeight":"bold","color":"#1e1e1e"},"encoding":{"y":{"field":"r","type":"ordinal","scale":{"type":"band","domain":[0,1,2,3],"paddingInner":0,"paddingOuter":0},"axis":null},"text":{"field":"h"}}},
      {"data":{"name":"mk2"},"mark":{"type":"rect","fill":"#000000","stroke":"#5a5e62","strokeWidth":1},"encoding":{"x":{"datum":0,"type":"quantitative","scale":{"domain":[0,1]},"axis":null},"x2":{"datum":1},"y":{"field":"r","type":"ordinal","scale":{"type":"band","domain":[0,1,2,3],"paddingInner":0,"paddingOuter":0},"axis":null}}},
      {"data":{"name":"mk2"},"mark":{"type":"text","align":"right","dx":-3,"color":"#c4c4c4"},"encoding":{"x":{"datum":1,"type":"quantitative","scale":{"domain":[0,1]},"axis":null},"y":{"field":"r","type":"ordinal","scale":{"type":"band","domain":[0,1,2,3],"paddingInner":0,"paddingOuter":0},"axis":null},"text":{"field":"Y"}}}
     ]},
     {"width":80,"height":53,"layer":[
      {"data":{"values":[{"r":0,"h":"Function"}]},"mark":{"type":"rect","fill":"#c7d0d8","stroke":"#5a5e62","strokeWidth":1},"encoding":{"x":{"datum":0,"type":"quantitative","scale":{"domain":[0,1]},"axis":null},"x2":{"datum":1},"y":{"field":"r","type":"ordinal","scale":{"type":"band","domain":[0,1,2,3],"paddingInner":0,"paddingOuter":0},"axis":null}}},
      {"data":{"values":[{"r":0,"h":"Function"}]},"mark":{"type":"text","fontWeight":"bold","color":"#1e1e1e"},"encoding":{"y":{"field":"r","type":"ordinal","scale":{"type":"band","domain":[0,1,2,3],"paddingInner":0,"paddingOuter":0},"axis":null},"text":{"field":"h"}}},
      {"data":{"name":"mk2"},"mark":{"type":"rect","fill":"#000000","stroke":"#5a5e62","strokeWidth":1},"encoding":{"x":{"datum":0,"type":"quantitative","scale":{"domain":[0,1]},"axis":null},"x2":{"datum":1},"y":{"field":"r","type":"ordinal","scale":{"type":"band","domain":[0,1,2,3],"paddingInner":0,"paddingOuter":0},"axis":null}}},
      {"data":{"name":"mk2"},"mark":{"type":"text","align":"right","dx":-3,"color":"#c4c4c4"},"encoding":{"x":{"datum":1,"type":"quantitative","scale":{"domain":[0,1]},"axis":null},"y":{"field":"r","type":"ordinal","scale":{"type":"band","domain":[0,1,2,3],"paddingInner":0,"paddingOuter":0},"axis":null},"text":{"field":"Func"}}}
     ]},
     {"width":203.5,"height":53,"layer":[
      {"data":{"values":[{"r":0,"h":"Function Result"}]},"mark":{"type":"rect","fill":"#c7d0d8","stroke":"#5a5e62","strokeWidth":1},"encoding":{"x":{"datum":0,"type":"quantitative","scale":{"domain":[0,1]},"axis":null},"x2":{"datum":1},"y":{"field":"r","type":"ordinal","scale":{"type":"band","domain":[0,1,2,3],"paddingInner":0,"paddingOuter":0},"axis":null}}},
      {"data":{"values":[{"r":0,"h":"Function Result"}]},"mark":{"type":"text","fontWeight":"bold","color":"#1e1e1e"},"encoding":{"y":{"field":"r","type":"ordinal","scale":{"type":"band","domain":[0,1,2,3],"paddingInner":0,"paddingOuter":0},"axis":null},"text":{"field":"h"}}},
      {"data":{"name":"mk2"},"mark":{"type":"rect","fill":"#000000","stroke":"#5a5e62","strokeWidth":1},"encoding":{"x":{"datum":0,"type":"quantitative","scale":{"domain":[0,1]},"axis":null},"x2":{"datum":1},"y":{"field":"r","type":"ordinal","scale":{"type":"band","domain":[0,1,2,3],"paddingInner":0,"paddingOuter":0},"axis":null}}},
      {"data":{"name":"mk2"},"mark":{"type":"text","align":"right","dx":-3,"color":"#c4c4c4"},"encoding":{"x":{"datum":1,"type":"quantitative","scale":{"domain":[0,1]},"axis":null},"y":{"field":"r","type":"ordinal","scale":{"type":"band","domain":[0,1,2,3],"paddingInner":0,"paddingOuter":0},"axis":null},"text":{"field":"Res"}}}
     ]},
     {"width":1.5,"height":53,"view":{"fill":"#2f3337"},"data":{"values":[{}]},"mark":{"type":"text","text":"","fontSize":0},"encoding":{}}
    ]},
    {"spacing":0,"bounds":"flush","hconcat":[
     {"width":3,"height":21,"view":{"fill":"#181c36"},"data":{"values":[{}]},"mark":{"type":"text","text":"","fontSize":0},"encoding":{}},
     {"width":72,"height":21,"view":{"fill":"#252e58","stroke":"#3b4679","strokeWidth":1,"cornerRadius":5},"data":{"values":[{}]},"mark":{"type":"text","text":"","fontSize":0},"encoding":{}},
     {"width":6,"height":21,"view":{"fill":"#181c36"},"data":{"values":[{}]},"mark":{"type":"text","text":"","fontSize":0},"encoding":{}},
     {"width":245,"height":21,"view":{"fill":"#252e58","stroke":"#3b4679","strokeWidth":1,"cornerRadius":5},"data":{"values":[{}]},"mark":{"type":"text","text":"","fontSize":0},"encoding":{}},
     {"width":18,"height":21,"view":{"fill":"#181c36"},"data":{"values":[{}]},"mark":{"type":"text","text":"","fontSize":0},"encoding":{}},
     {"width":62,"height":21,"view":{"fill":"#181c36"},"data":{"values":[{"t":"Measuring..."}]},"mark":{"type":"text","fontWeight":"bold","fontSize":9,"color":"#f0f0f0"},"encoding":{"text":{"field":"t"}}},
     {"width":17,"height":21,"view":{"fill":"#181c36"},"data":{"values":[{}]},"mark":{"type":"text","text":"","fontSize":0},"encoding":{}},
     {"width":58,"height":21,"view":{"fill":"#181c36"},"layer":[
      {"data":{"values":[{}]},"mark":{"type":"rect","fill":"#2f5ee0","stroke":"#f0f0f8","strokeWidth":1.5,"cornerRadius":4},"encoding":{"x":{"datum":0,"type":"quantitative","scale":{"domain":[0,7]},"axis":null},"x2":{"datum":7},"y":{"datum":0.22,"type":"quantitative","scale":{"domain":[0,1]},"axis":null},"y2":{"datum":0.78}}},
      {"data":{"name":"seg"},"mark":{"type":"rule","color":"#e8ecf8","strokeWidth":1},"encoding":{"x":{"field":"s","type":"quantitative","axis":null},"y":{"datum":0.22,"type":"quantitative","axis":null},"y2":{"datum":0.78}}}
     ]},
     {"width":6,"height":21,"view":{"fill":"#181c36"},"data":{"values":[{}]},"mark":{"type":"text","text":"","fontSize":0},"encoding":{}},
     {"width":16,"height":21,"view":{"fill":"#181c36"},"data":{"values":[{}]},"mark":{"type":"rect","fill":"#d8283a"},"encoding":{"x":{"datum":0,"type":"quantitative","scale":{"domain":[0,1]},"axis":null},"x2":{"datum":1},"y":{"datum":0.22,"type":"quantitative","scale":{"domain":[0,1]},"axis":null},"y2":{"datum":0.78}}},
     {"width":38,"height":21,"view":{"fill":"#181c36"},"data":{"values":[{}]},"mark":{"type":"text","text":"","fontSize":0},"encoding":{}},
     {"width":46,"height":21,"view":{"fill":"#181c36"},"layer":[
      {"data":{"values":[{"t":"02.12.2022"}]},"mark":{"type":"text","fontWeight":"bold","fontSize":6.5,"color":"#f0f0f0","dy":-4.5},"encoding":{"text":{"field":"t"}}},
      {"data":{"values":[{"t":"01:33:29"}]},"mark":{"type":"text","fontWeight":"bold","fontSize":6.5,"color":"#f0f0f0","dy":4.5},"encoding":{"text":{"field":"t"}}}
     ]},
     {"width":19,"height":21,"view":{"fill":"#181c36"},"data":{"values":[{}]},"mark":{"type":"text","text":"","fontSize":0},"encoding":{}}
    ]}
   ]},
   {"width":18,"height":450,"data":{"values":[{}]},"mark":{"type":"text","text":"","fontSize":0},"encoding":{}}
  ]},
  {"width":646,"height":55,"data":{"values":[{"t":"Date: 2.DEC.2022\u00a0 01:33:29"}]},"mark":{"type":"text","font":"Liberation Sans","fontSize":9.8,"color":"#333333","align":"left","dx":22,"dy":-10},"encoding":{"x":{"datum":0,"type":"quantitative","scale":{"domain":[0,1]},"axis":null},"text":{"field":"t"}}}
 ]},
 {"width":3,"height":529,"view":{"fill":"#000000"},"data":{"values":[{}]},"mark":{"type":"text","text":"","fontSize":0},"encoding":{}}
]}
]
}
